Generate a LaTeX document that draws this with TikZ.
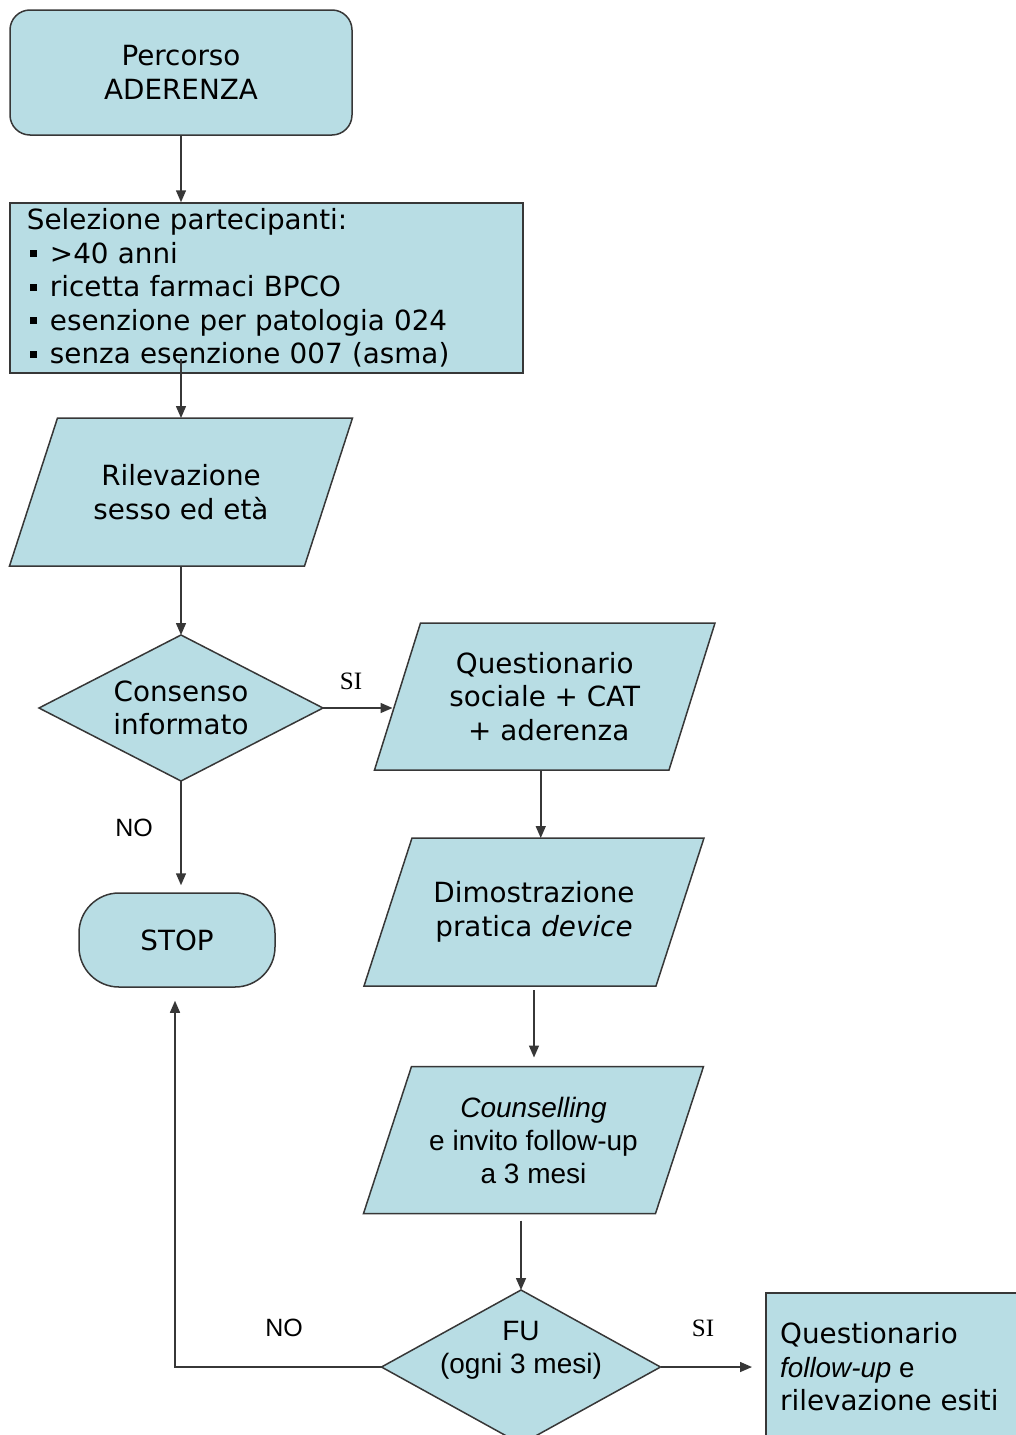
\documentclass[tikz,border=0pt]{standalone}
\usepackage{fontspec}
\setmainfont{DejaVu Sans}
\newfontfamily\arialf{Liberation Sans}
\newfontfamily\timesf{Liberation Serif}
\usetikzlibrary{arrows.meta,backgrounds}
\definecolor{fillc}{RGB}{184,221,228}
\definecolor{linec}{RGB}{55,55,55}
\newcommand\bulx{\hspace*{3pt}\rule[6pt]{7pt}{7pt}\hspace*{13pt}}
\begin{document}
\begin{tikzpicture}[x=1pt,y=-1pt,
  ln/.style={draw=linec, line width=1.5pt},
  shp/.style={ln, fill=fillc},
  vt/.style={font=\fontsize{27.8}{33.5}\selectfont, align=center, inner sep=0pt},
  arialtxt/.style={font=\arialf\fontsize{28}{33}\selectfont, align=center, inner sep=0pt},
  ghost/.style={inner sep=0pt, outer sep=0pt},
  arr/.style={ln, -{Triangle[length=12pt,width=10pt]}},
  lblA/.style={font=\arialf\fontsize{25}{30}\selectfont, inner sep=0pt},
  lblT/.style={font=\timesf\fontsize{25}{30}\selectfont, inner sep=0pt}]
\path[use as bounding box] (0,0) rectangle (1016,1435);
\clip (0,0) rectangle (1016,1435);

% nodes
\node[shp, rounded corners=20pt, minimum width=342pt, minimum height=125pt, vt] (start) at (181,72.5) {Percorso\\ADERENZA};
\node[shp, minimum width=513pt, minimum height=170pt, vt, inner xsep=17pt, inner ysep=0pt, text width=479pt, align=left] (sel) at (266.5,288)
  {Selezione partecipanti:\\\bulx>40 anni\\\bulx ricetta farmaci BPCO\\\bulx esenzione per patologia 024\\\bulx senza esenzione 007 (asma)};
\node[ghost, vt, minimum width=295pt, minimum height=148pt] (p1) at (181,492) {Rilevazione\\sesso ed età};
\node[ghost, vt, minimum width=284pt, minimum height=146pt] (d1) at (181,708) {Consenso\\informato};
\node[ghost, vt, minimum width=294.5pt, minimum height=147pt] (p2) at (544.75,696.5) {Questionario\\sociale + CAT\\\hspace*{8pt}+ aderenza};
\node[ghost, vt, minimum width=292pt, minimum height=148pt] (p3) at (534,912) {Dimostrazione\\pratica \textit{device}};
\node[ghost, arialtxt, minimum width=292pt, minimum height=147pt] (p4) at (533.5,1140) {\textit{Counselling}\\e invito follow-up\\a 3 mesi};
\node[ghost, minimum width=279pt, minimum height=154pt] (fu) at (521,1367) {};
\node[arialtxt] (futxt) at (521,1350) {FU\\(ogni 3 mesi)};
\node[shp, rounded corners=40pt, minimum width=196pt, minimum height=94pt, vt] (stop) at (177,940) {STOP};
\node[shp, minimum width=290pt, minimum height=180pt, anchor=north west] (qf) at (765,1292) {};
\node[vt, align=left, anchor=west] (qftxt) at (780,1367) {Questionario\\{\arialf\itshape follow-up}{\arialf\ e}\\rilevazione esiti};

% shapes behind text
\begin{scope}[on background layer]
\draw[shp] ([xshift=24pt]p1.north west) -- ([xshift=24pt]p1.north east) -- ([xshift=-24pt]p1.south east) -- ([xshift=-24pt]p1.south west) -- cycle;
\draw[shp] ([xshift=23pt]p2.north west) -- ([xshift=23pt]p2.north east) -- ([xshift=-23pt]p2.south east) -- ([xshift=-23pt]p2.south west) -- cycle;
\draw[shp] ([xshift=24pt]p3.north west) -- ([xshift=24pt]p3.north east) -- ([xshift=-24pt]p3.south east) -- ([xshift=-24pt]p3.south west) -- cycle;
\draw[shp] ([xshift=24pt]p4.north west) -- ([xshift=24pt]p4.north east) -- ([xshift=-24pt]p4.south east) -- ([xshift=-24pt]p4.south west) -- cycle;
\draw[shp] (d1.north) -- (d1.east) -- (d1.south) -- (d1.west) -- cycle;
\draw[shp] (fu.north) -- (fu.east) -- (fu.south) -- (fu.west) -- cycle;
\end{scope}

% connectors
\draw[arr] (start.south) -- (start.south |- sel.north);
\draw[arr] ([yshift=15pt]sel.south -| p1.north) -- (p1.north);
\draw[arr] (p1.south) -- (d1.north);
\draw[arr] (d1.east) -- ([xshift=-5pt]d1.east -| p2.west);
\draw[arr] (d1.south) -- ([yshift=7pt]d1.south |- stop.north);
\draw[arr] ([xshift=-4pt]p2.south) -- ([xshift=-4pt]p2.south |- p3.north);
\draw[arr] ([yshift=-4pt]p3.south) -- ([yshift=9pt]p3.south |- p4.north);
\draw[arr] ([yshift=-7pt]p4.south -| fu.north) -- (fu.north);
\draw[arr] (fu.east) -- ([xshift=-13pt]fu.east -| qf.west);
\draw[arr] (fu.west) -| ([xshift=-2pt,yshift=-13pt]stop.south);

% labels
\node[lblT] (si1) at (351,681) {SI};
\node[lblA] (no1) at (134,828) {NO};
\node[lblA] (no2) at (284,1328) {NO};
\node[lblT] (si2) at (703,1328) {SI};
\end{tikzpicture}
\end{document}
